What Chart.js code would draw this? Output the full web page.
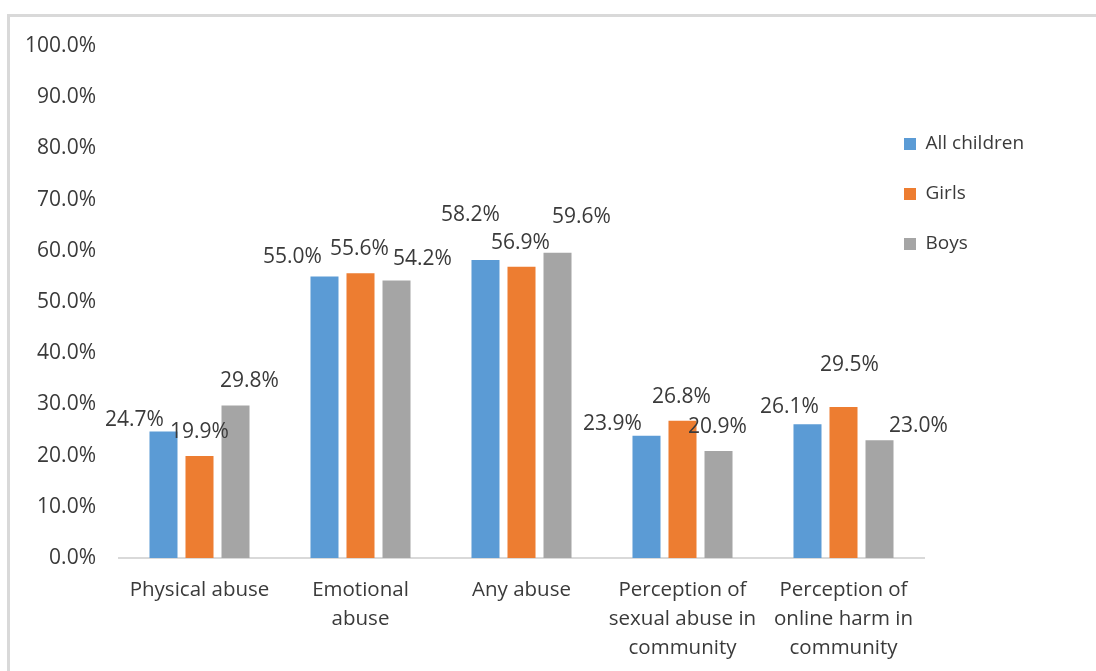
<!DOCTYPE html>
<html>
<head>
<meta charset="utf-8">
<script src="https://cdn.jsdelivr.net/npm/chart.js@4.4.1/dist/chart.umd.min.js"></script>
<style>
  html, body { margin: 0; padding: 0; background: #ffffff; }
  #wrap { position: relative; width: 1096px; height: 671px; overflow: hidden; }
  #frame { position: absolute; left: 7px; top: 14px; width: 1200px; height: 800px;
           border-top: 3px solid #d9d9d9; border-left: 3px solid #d9d9d9; box-sizing: border-box; }
  #c { position: absolute; left: 0; top: 0; }
</style>
</head>
<body>
<div id="wrap">
  <div id="frame"></div>
  <canvas id="c" width="1096" height="671"></canvas>
</div>
<script>
// ---- data ----
const categories = [
  ['Physical abuse'],
  ['Emotional', 'abuse'],
  ['Any abuse'],
  ['Perception of', 'sexual abuse in', 'community'],
  ['Perception of', 'online harm in', 'community']
];
const seriesNames = ['All children', 'Girls', 'Boys'];
const allChildren = [24.7, 55.0, 58.2, 23.9, 26.1];
const girls       = [19.9, 55.6, 56.9, 26.8, 29.5];
const boys        = [29.8, 54.2, 59.6, 20.9, 23.0];
const yTicks = [0, 10, 20, 30, 40, 50, 60, 70, 80, 90, 100];

// ---- styling / label placement (kept separate from data) ----
const colors = ['#5B9BD5', '#ED7D31', '#A5A5A5'];
const labelDx = [
  [-29, -32, -15, -34, -18],
  [0, -1, -1, -1, 6],
  [14, 26, 24, -1, 39]
];
const labelDy = [
  [-12, -19, -45, -12, -17],
  [-24, -24, -24, -24, -42],
  [-24, -21, -36, -24, -14]
];
const FONT = '"Open Sans", "Liberation Sans", sans-serif';
const TEXT = '#3a3a3a';

const dataLabels = {
  id: 'dataLabels',
  afterDatasetsDraw(chart) {
    const ctx = chart.ctx;
    ctx.save();
    ctx.font = '21px ' + FONT;
    ctx.fillStyle = TEXT;
    ctx.textAlign = 'center';
    ctx.textBaseline = 'middle';
    chart.data.datasets.forEach((ds, i) => {
      const meta = chart.getDatasetMeta(i);
      meta.data.forEach((bar, j) => {
        ctx.fillText(ds.data[j].toFixed(1) + '%', bar.x + labelDx[i][j], bar.y + labelDy[i][j]);
      });
    });
    ctx.restore();
  }
};

const legendPlace = {
  id: 'legendPlace',
  beforeLayout(chart) {
    const lg = chart.legend;
    if (lg && !lg._wrapped) {
      const f = lg.fit.bind(lg);
      lg.fit = function () { f(); this.width = 172; };
      lg._wrapped = true;
    }
  },
  afterLayout(chart) {
    const lg = chart.legend;
    const ca = chart.chartArea;
    const pad = lg.options.labels.padding;
    const fs = lg.options.labels.font.size;
    const w = lg.width, h = lg.height;
    lg.left = ca.right - 20 - pad;
    lg.right = lg.left + w;
    lg.top = ca.top + 98 - pad - fs / 2;
    lg.bottom = lg.top + h;
  }
};

const datasets = [allChildren, girls, boys].map((arr, i) => ({
  label: seriesNames[i],
  data: arr,
  backgroundColor: colors[i],
  borderWidth: 0,
  categoryPercentage: 0.671,
  barPercentage: 0.778
}));

new Chart(document.getElementById('c'), {
  type: 'bar',
  data: { labels: categories, datasets },
  options: {
    responsive: false,
    animation: false,
    devicePixelRatio: 1,
    layout: { padding: { top: 46, left: 0, right: 0, bottom: 0 } },
    plugins: {
      tooltip: { enabled: false },
      legend: {
        position: 'right',
        align: 'start',
        labels: {
          boxWidth: 12,
          boxHeight: 12,
          padding: 31,
          color: TEXT,
          font: { family: FONT, size: 19 }
        }
      }
    },
    scales: {
      x: {
        grid: { display: false, drawTicks: false },
        border: { display: true, color: '#d9d9d9', width: 2 },
        ticks: {
          color: TEXT,
          font: { family: FONT, size: 20.5, lineHeight: 1.4 },
          padding: 18,
          maxRotation: 0,
          minRotation: 0,
          autoSkip: false
        },
        afterFit(scale) { scale.height = 113; }
      },
      y: {
        min: yTicks[0],
        max: yTicks[yTicks.length - 1],
        grid: { display: false, drawTicks: false },
        border: { display: false },
        afterBuildTicks(scale) { scale.ticks = yTicks.map(v => ({ value: v })); },
        ticks: {
          color: TEXT,
          font: { family: FONT, size: 21 },
          padding: 23,
          callback: v => Number(v).toFixed(1) + '%'
        },
        afterFit(scale) { scale.width = 119; }
      }
    }
  },
  plugins: [dataLabels, legendPlace]
});
</script>
</body>
</html>
